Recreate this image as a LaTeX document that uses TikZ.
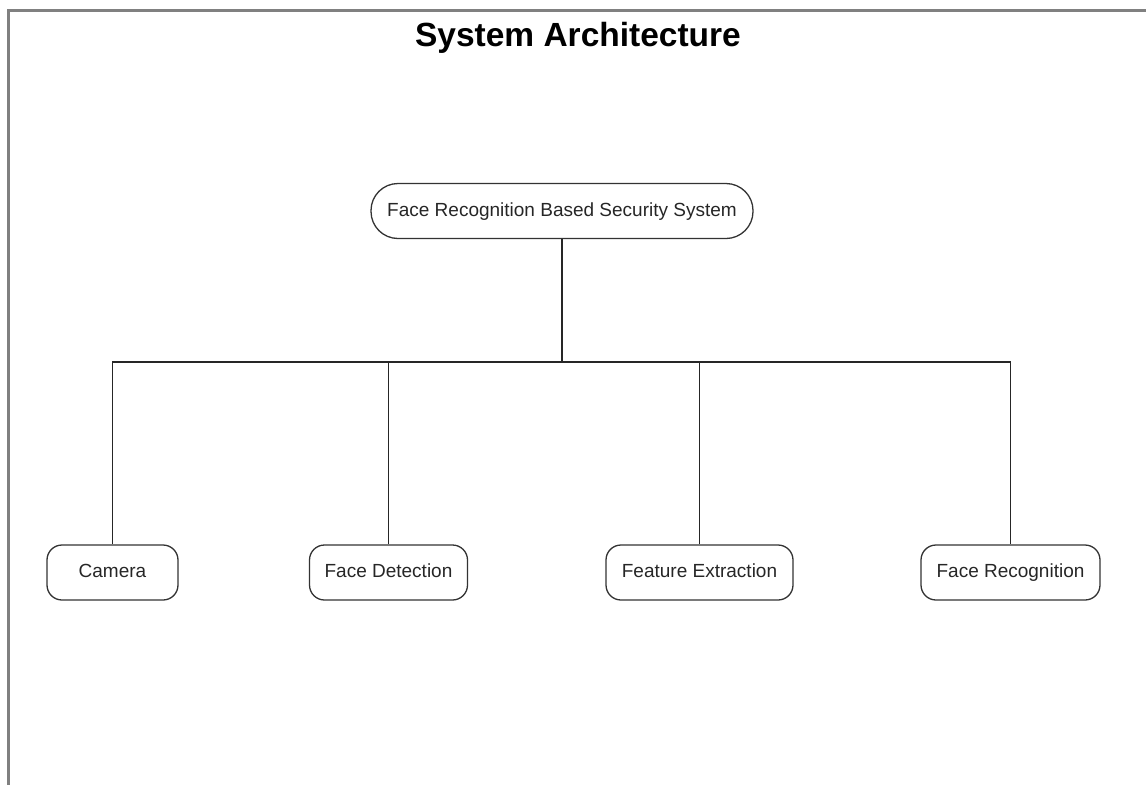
\documentclass[tikz,border=0pt]{standalone}
\usepackage{fontspec}
\setmainfont{Liberation Sans}
\begin{document}
\begin{tikzpicture}[x=1pt,y=-1pt,
  frame/.style={draw=black!50,line width=3pt},
  link/.style={draw=black!85,line width=1.6pt},
  box/.style={draw=black!80,line width=1.3pt,rounded corners=15pt,
    minimum height=55pt,inner sep=0pt,text=black!85,
    text height=14pt,text depth=4pt,
    font=\fontsize{19}{22}\selectfont},
  rootbox/.style={box,rounded corners=27pt},
  heading/.style={font=\bfseries\fontsize{33.5}{38}\selectfont,text=black}
]
\useasboundingbox (0,0) rectangle (1146,785);
% partial page frame (top and left edges)
\draw[frame] (1146,10.5) -- (8.5,10.5) -- (8.5,785);

\node[heading] (title) at (578,38) {System Architecture};

\node[rootbox,minimum width=382pt] (root) at (562,211) {Face Recognition Based Security System};

\node[box,minimum width=131pt] (cam)  at (112.5,572.5)  {Camera};
\node[box,minimum width=158pt] (det)  at (388.5,572.5)  {Face Detection};
\node[box,minimum width=187pt] (feat) at (699.5,572.5)  {Feature Extraction};
\node[box,minimum width=179pt] (rec)  at (1010.5,572.5) {Face Recognition};

\coordinate (bus) at (562,362);
\draw[link] (root.south) -- (bus);
\draw[link] (cam.north) -- (cam.north |- bus) -- (rec.north |- bus) -- (rec.north);
\draw[link] (det.north) -- (det.north |- bus);
\draw[link] (feat.north) -- (feat.north |- bus);
\end{tikzpicture}
\end{document}
